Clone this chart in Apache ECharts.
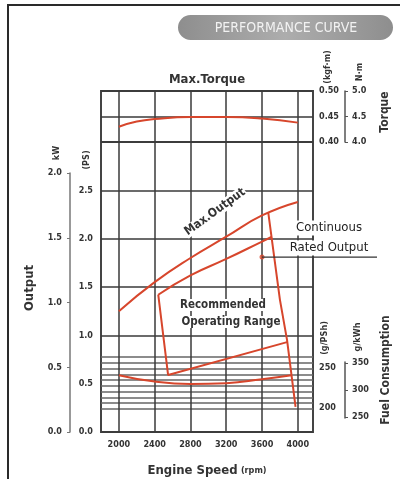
<!DOCTYPE html>
<html>
<head>
<meta charset="utf-8">
<script src="https://cdn.jsdelivr.net/npm/echarts@6/dist/echarts.min.js"></script>
<style>
  html, body { margin: 0; padding: 0; background: #fff; }
  #chart { width: 400px; height: 479px; }
</style>
</head>
<body>
<div id="chart"></div>
<script>
// engine speed ticks (rpm)
var rpmTicks = [2000, 2400, 2800, 3200, 3600, 4000];
// torque, kgf·m
var torque = [[2000, 0.430], [2200, 0.440], [2400, 0.445], [2800, 0.449], [3200, 0.449], [3600, 0.446], [4000, 0.438]];
// output, PS
var maxOutput = [[2000, 1.25], [2400, 1.55], [2800, 1.80], [3200, 2.02], [3600, 2.24], [4000, 2.38]];
var ratedOutput = [[2440, 1.42], [2800, 1.62], [3200, 1.79], [3600, 1.97], [3710, 2.02]];
var governor = [[3670, 2.27], [3800, 1.37], [3880, 0.95], [3975, 0.26]];
var rangeEdge = [[2440, 1.42], [2550, 0.59], [3880, 0.93]];
var ratedPoint = [[3600, 1.81]];
// fuel consumption, g/PSh
var fuel = [[2000, 241], [2400, 233], [2800, 230], [3200, 231], [3600, 236], [3930, 241]];

var psLabels = [0, 0.5, 1, 1.5, 2, 2.5];
var psLines = [0, 1, 1.5, 2, 2.5];
var fuelPsLabels = [200, 250];
var fuelKwLabels = [250, 300, 350];

var RED = '#d7462c';
var GRID = '#3a3a3a';
var FONT = "'Liberation Sans Narrow', 'DejaVu Sans Condensed', 'Arial Narrow', sans-serif";
var tickText = { color: '#333', fontSize: 9, fontWeight: 'bold', fontFamily: FONT };

function fixed(n) { return function (v) { return (+v).toFixed(n); }; }

function hiddenX(grid) {
  return { gridIndex: grid, type: 'value', min: 1800, max: 4170, show: false };
}

var myChart = echarts.init(document.getElementById('chart'));

function vtext(x, y, txt, size, weight) {
  return {
    type: 'text', x: x, y: y, rotation: Math.PI / 2,
    style: { text: txt, fill: '#333', font: (weight || 'bold') + ' ' + size + 'px ' + FONT,
      align: 'center', verticalAlign: 'middle', textAlign: 'center', textVerticalAlign: 'middle' }
  };
}
function htext(x, y, txt, size, weight, extra) {
  var st = { text: txt, fill: '#333', font: (weight || 'bold') + ' ' + size + 'px ' + FONT,
    align: 'center', verticalAlign: 'middle', textAlign: 'center', textVerticalAlign: 'middle' };
  for (var k in extra) st[k] = extra[k];
  return { type: 'text', x: x, y: y, style: st, z: 10 };
}

var graphics = [
  { type: 'rect', shape: { x: 8, y: 5, width: 400, height: 480 }, style: { fill: 'none', stroke: '#2a2a2a', lineWidth: 2 } },
  { type: 'rect', shape: { x: 178, y: 15, width: 215, height: 25, r: 12.5 },
    style: { fill: { type: 'linear', x: 0, y: 0, x2: 1, y2: 0, colorStops: [
      { offset: 0, color: '#8e8e8e' }, { offset: 0.5, color: '#adadad' }, { offset: 1, color: '#8e8e8e' }] } } },
  htext(286, 28, 'PERFORMANCE CURVE', 14, 'normal', { fill: '#f2f2f2' }),
  htext(207, 80, 'Max.Torque', 13, 'bold'),
  vtext(328, 67, '(kgf·m)', 9), vtext(360, 72, 'N·m', 9), vtext(385, 112, 'Torque', 12, 'bold'),
  vtext(57, 153, 'kW', 9), vtext(87, 160, '(PS)', 9), vtext(30, 288, 'Output', 13, 'bold'),
  vtext(325, 338, '(g/PSh)', 9), vtext(358, 337, 'g/kWh', 9), vtext(386, 370, 'Fuel Consumption', 12, 'bold'),
  { type: 'text', x: 215, y: 212, rotation: 36 * Math.PI / 180, z: 10,
    style: { text: 'Max.Output', fill: '#333', font: 'bold 12px ' + FONT, align: 'center', verticalAlign: 'middle',
      textAlign: 'center', textVerticalAlign: 'middle', backgroundColor: '#fff', padding: [0, 1] } },
  htext(329, 228, 'Continuous', 13, '500', { fill: '#222', backgroundColor: '#fff', padding: [1, 2] }),
  htext(223, 305, 'Recommended', 11.5, 'bold', { backgroundColor: '#fff', padding: [0, 1] }),
  htext(231, 322, 'Operating Range', 11.5, 'bold', { backgroundColor: '#fff', padding: [0, 1] })
];

function grid(left, top, width, height, show) {
  return { left: left, top: top, width: width, height: height, show: show, outerBoundsMode: 'none',
    containLabel: false, borderColor: '#444', borderWidth: 2, backgroundColor: 'transparent' };
}

var options = {
  backgroundColor: '#fff',
  animation: false,
  grid: [
    grid(101, 91, 212, 51, true),
    grid(101, 142, 212, 290, true),
    grid(101, 357, 212, 52, false),
    grid(101, 362, 212, 56, false),
    grid(70, 173, 10, 259, false)
  ],
  xAxis: [
    { gridIndex: 0, type: 'value', min: 1800, max: 4170,
      axisLine: { show: false }, axisTick: { show: false, customValues: rpmTicks },
      axisLabel: { show: false, customValues: rpmTicks },
      splitLine: { show: true, lineStyle: { color: GRID, width: 1.5 } } },
    { gridIndex: 1, type: 'value', min: 1800, max: 4170,
      axisLine: { show: false }, axisTick: { show: false, customValues: rpmTicks },
      axisLabel: { customValues: rpmTicks, margin: 8, formatter: function (v) { return String(v); }, textStyle: tickText },
      splitLine: { show: true, lineStyle: { color: GRID, width: 1.5 } },
      name: '{a|Engine Speed} {b|(rpm)}', nameLocation: 'middle', nameGap: 32,
      nameTextStyle: { rich: {
        a: { fontSize: 13, fontWeight: 'bold', color: '#333', fontFamily: FONT },
        b: { fontSize: 9, fontWeight: 'bold', color: '#333', fontFamily: FONT } } } },
    hiddenX(2), hiddenX(3), hiddenX(4)
  ],
  yAxis: [
    { gridIndex: 0, type: 'value', position: 'right', min: 0.4, max: 0.5, interval: 0.05,
      axisLine: { show: false }, axisTick: { show: false },
      axisLabel: { margin: 6, formatter: fixed(2), textStyle: tickText },
      splitLine: { show: true, lineStyle: { color: GRID, width: 1.5 } } },
    { gridIndex: 0, type: 'value', position: 'right', offset: 32, min: 4.0, max: 5.0, interval: 0.5,
      axisLine: { show: true, lineStyle: { color: '#555', width: 1.5 } },
      axisTick: { show: true, length: 3, lineStyle: { color: '#555' } },
      axisLabel: { margin: 7, formatter: fixed(1), textStyle: tickText },
      splitLine: { show: false } },
    { gridIndex: 1, type: 'value', position: 'left', min: 0, max: 3,
      axisLine: { show: false }, axisTick: { show: false, customValues: psLines },
      axisLabel: { margin: 8, customValues: psLabels, formatter: fixed(1), textStyle: tickText },
      splitLine: { show: true, lineStyle: { color: GRID, width: 1.5 } } },
    { gridIndex: 1, type: 'value', position: 'right', min: 170, max: 532.5,
      axisLine: { show: false }, axisTick: { show: false, customValues: fuelPsLabels },
      axisLabel: { margin: 6, customValues: fuelPsLabels, textStyle: tickText },
      splitLine: { show: false } },
    { gridIndex: 2, type: 'value', min: 0, max: 9, interval: 1,
      axisLine: { show: false }, axisTick: { show: false }, axisLabel: { show: false },
      splitLine: { show: true, lineStyle: { color: '#666', width: 1.5 } } },
    { gridIndex: 3, type: 'value', position: 'right', offset: 32, min: 248, max: 352,
      axisLine: { show: true, lineStyle: { color: '#555', width: 1.5 } },
      axisTick: { show: true, length: 3, customValues: fuelKwLabels, lineStyle: { color: '#555' } },
      axisLabel: { margin: 7, customValues: fuelKwLabels, textStyle: tickText },
      splitLine: { show: false } },
    { gridIndex: 4, type: 'value', position: 'left', min: 0, max: 2, interval: 0.5,
      axisLine: { show: true, lineStyle: { color: '#777', width: 1.5 } },
      axisTick: { show: true, length: 3, lineStyle: { color: '#777' } },
      axisLabel: { margin: 8, formatter: fixed(1), textStyle: tickText },
      splitLine: { show: false } }
  ],
  series: [
    { name: 'torque', type: 'line', xAxisIndex: 0, yAxisIndex: 0, data: torque, smooth: true,
      showSymbol: false, lineStyle: { color: RED, width: 2 } },
    { name: 'max', type: 'line', xAxisIndex: 1, yAxisIndex: 2, data: maxOutput, smooth: true,
      showSymbol: false, lineStyle: { color: RED, width: 2 } },
    { name: 'rated', type: 'line', xAxisIndex: 1, yAxisIndex: 2, data: ratedOutput, smooth: true,
      showSymbol: false, lineStyle: { color: RED, width: 2 } },
    { name: 'governor', type: 'line', xAxisIndex: 1, yAxisIndex: 2, data: governor,
      showSymbol: false, lineStyle: { color: RED, width: 2 } },
    { name: 'range', type: 'line', xAxisIndex: 1, yAxisIndex: 2, data: rangeEdge,
      showSymbol: false, lineStyle: { color: RED, width: 2 } },
    { name: 'fuel', type: 'line', xAxisIndex: 1, yAxisIndex: 3, data: fuel, smooth: true,
      showSymbol: false, lineStyle: { color: RED, width: 2 } },
    { name: 'point', type: 'scatter', xAxisIndex: 1, yAxisIndex: 2, data: ratedPoint,
      symbolSize: 5, itemStyle: { color: RED }, z: 5 }
  ],
  graphic: graphics
};

myChart.setOption(options);

// leader from the rated point to the underlined label
var p = myChart.convertToPixel({ xAxisIndex: 1, yAxisIndex: 2 }, ratedPoint[0]);
graphics.push({ type: 'polyline', z: 9, shape: { points: [p, [377, p[1]]] },
  style: { stroke: '#333', lineWidth: 1.2, fill: 'none' } });
graphics.push(htext(329, p[1] - 9, 'Rated Output', 13, '500', { fill: '#222', backgroundColor: '#fff', padding: [1, 2] }));
myChart.setOption({ graphic: graphics });
</script>
</body>
</html>
